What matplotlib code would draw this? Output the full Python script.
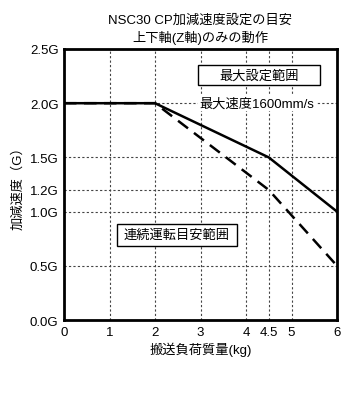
import matplotlib
matplotlib.use("Agg")
import matplotlib.pyplot as plt
from matplotlib.patches import Rectangle

plt.rcParams['font.family'] = ['Liberation Sans', 'Noto Sans CJK JP', 'DejaVu Sans']

# data
mass_kg = [0, 2, 4.5, 6]
acc_max = [2.0, 2.0, 1.5, 1.0]
acc_cont = [2.0, 2.0, 1.2, 0.5]

x_ticks = [0, 1, 2, 3, 4, 4.5, 5, 6]
x_labels = ['0', '1', '2', '3', '4', '4.5', '5', '6']
y_ticks = [0.0, 0.5, 1.0, 1.2, 1.5, 2.0, 2.5]
y_labels = ['0.0G', '0.5G', '1.0G', '1.2G', '1.5G', '2.0G', '2.5G']

fig = plt.figure(figsize=(3.53, 4.10), dpi=100)
ax = fig.add_axes([64 / 353, 1 - 321 / 410, 273 / 353, 271 / 410])

ax.set_xlim(0, 6)
ax.set_ylim(0, 2.5)
ax.set_xticks(x_ticks)
ax.set_xticklabels(x_labels)
ax.set_yticks(y_ticks)
ax.set_yticklabels(y_labels)
ax.tick_params(length=0, labelsize=9.5, pad=4)

ax.grid(True, linestyle=(0, (2, 2)), color='#444444', linewidth=0.8)

ax.plot(mass_kg, acc_max, color='black', linewidth=1.8, zorder=3)
ax.plot(mass_kg, acc_cont, color='black', linewidth=1.8, linestyle=(0, (5, 3)), zorder=3)

for s in ax.spines.values():
    s.set_linewidth(2)

# label boxes
ax.add_patch(Rectangle((2.95, 2.17), 2.67, 0.18, fc='white', ec='black', lw=1, zorder=4))
ax.text(4.28, 2.26, '最大設定範囲', fontsize=9.5, ha='center', va='center', zorder=5)
ax.text(4.24, 2.0, '最大速度1600mm/s', fontsize=9.5, ha='center', va='center',
        bbox=dict(boxstyle='square,pad=0.15', fc='white', ec='none'), zorder=4)
ax.add_patch(Rectangle((1.16, 0.685), 2.64, 0.2, fc='white', ec='black', lw=1, zorder=4))
ax.text(2.48, 0.785, '連続運転目安範囲', fontsize=9.5, ha='center', va='center', zorder=5)

ax.set_title('NSC30 CP加減速度設定の目安\n上下軸(Z軸)のみの動作', fontsize=9.5, linespacing=1.35, pad=6)
ax.set_xlabel('搬送負荷質量(kg)', fontsize=9.5, labelpad=3)
ax.set_ylabel('加減速度（G）', fontsize=9.5, labelpad=4)

fig.savefig('out.png', dpi=100)
